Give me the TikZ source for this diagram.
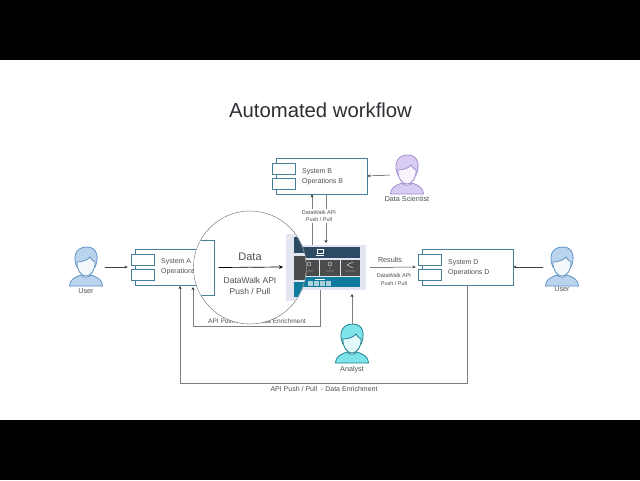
\documentclass[tikz,border=0pt]{standalone}
\usepackage{fontspec}
\setmainfont{Liberation Sans}
\usetikzlibrary{arrows.meta}

\definecolor{boxline}{HTML}{4A7F9C}
\definecolor{flowline}{HTML}{7F7F7F}
\definecolor{inktext}{HTML}{4A4F55}
\definecolor{navyband}{HTML}{2C4A62}
\definecolor{grayband}{HTML}{4B4B4B}
\definecolor{tealband}{HTML}{0F7C9E}
\definecolor{panelback}{HTML}{E3E6F0}
\definecolor{userline}{HTML}{5F93C4}
\definecolor{userfill}{HTML}{BBD4EE}
\definecolor{userface}{HTML}{F2F7FC}
\definecolor{scienceline}{HTML}{A08CD0}
\definecolor{sciencefill}{HTML}{D9CCF2}
\definecolor{scienceface}{HTML}{F8F4FD}
\definecolor{analystline}{HTML}{1E7F90}
\definecolor{analystfill}{HTML}{7FE3EA}
\definecolor{analystface}{HTML}{E2FAFB}

\tikzset{
    sysbox/.style={draw=boxline, fill=white, line width=0.8pt, minimum width=91pt, minimum height=36pt, inner sep=0pt},
    portbox/.style={draw=boxline, fill=white, line width=0.8pt, minimum width=23pt, minimum height=11pt, inner sep=0pt},
    syslabel/.style={anchor=west, align=left, text=inktext, inner sep=0pt, font=\fontsize{7}{10}\selectfont},
    smalllabel/.style={align=center, text=inktext, inner sep=1pt, font=\fontsize{5.5}{7.5}\selectfont},
    personlabel/.style={text=inktext, inner sep=0pt, font=\fontsize{7.2}{9}\selectfont},
    personspot/.style={minimum width=38pt, minimum height=40pt, inner sep=0pt},
    flow/.style={draw=flowline, line width=0.6pt},
    blackflow/.style={draw=black!75, line width=0.5pt, -{Stealth[length=3pt,width=3pt]}},
    grayflow/.style={flow, -{Stealth[length=3pt,width=3pt,color=black!80]}},
    pics/person/.style n args={3}{code={
        \draw[draw=#1, fill=#2, line width=0.8pt] (-16.5,19) .. controls (-16.5,13) and (-12,10.5) .. (-5,8) .. controls (-3,11) and (3,11) .. (5,8) .. controls (12,10.5) and (16.5,13) .. (16.5,19) -- cycle;
        \draw[draw=#1, fill=#2, line width=0.8pt] (-9,0) .. controls (-13,-8) and (-12,-20) .. (1,-20) .. controls (12,-20) and (13,-8) .. (9,0) -- cycle;
        \draw[draw=#1, fill=#3, line width=0.8pt] (-9,-5) .. controls (-4,-5) and (2,-7) .. (4,-10) .. controls (5,-8) and (7,-6) .. (9,-5) .. controls (9.5,3) and (5,9) .. (0,9) .. controls (-5,9) and (-9.5,3) .. (-9,-5) -- cycle;
    }},
    pics/appscreen/.style={code={
        \fill[panelback] (274,245) rectangle (366,290);
        \fill[navyband] (279,247) rectangle (360,258);
        \fill[grayband] (279,260) rectangle (319,276);
        \fill[grayband] (320,260) rectangle (340,276);
        \fill[grayband] (341,260) rectangle (360,276);
        \fill[tealband] (279,277) rectangle (360,287);
        \draw[white, line width=0.3pt] (317,249) rectangle (323,253);
        \draw[white, line width=0.3pt] (316,255) -- (324,255);
        \draw[white, line width=0.3pt] (309,264) circle (2) (305,271) -- (313,271);
        \draw[white, line width=0.3pt] (330,264) circle (2) (329,268) -- (331,268) (326,271) -- (334,271);
        \draw[white, line width=0.3pt] (347,265) -- (353,262) (347,265) -- (353,268) (345,271) -- (355,271);
        \draw[white, line width=0.3pt] (315,279) -- (325,279);
        \foreach \sq in {308,314,320,326} {
            \fill[white!65!tealband] (\sq,281) rectangle ++(5,5);
        }
    }}
}

\begin{document}
\begin{tikzpicture}[x=1pt, y=-1pt]
            \useasboundingbox (0,0) rectangle (640,480);
            \fill[black] (0,0) rectangle (640,60);
            \fill[black] (0,420) rectangle (640,480);

            \node[text=inktext!60!black, inner sep=0pt, font=\fontsize{20.3}{24}\selectfont] (title) at (320.5,110) {Automated workflow};

            % systems
            \node[sysbox] (sysB) at (321.5,176) {};
            \node[portbox] (portB1) at (283.5,168.5) {};
            \node[portbox] (portB2) at (283.5,183.5) {};
            \node[syslabel] (textB) at (302,177) {System B\\Operations B};

            \node[sysbox] (sysA) at (180.5,267) {};
            \node[portbox] (portA1) at (142.5,259.5) {};
            \node[portbox] (portA2) at (142.5,274.5) {};
            \node[syslabel] (textA) at (161,267) {System A\\Operations A};

            \node[sysbox] (sysD) at (467.5,267) {};
            \node[portbox] (portD1) at (429.5,259.5) {};
            \node[portbox] (portD2) at (429.5,274.5) {};
            \node[syslabel] (textD) at (448,267.5) {System D\\Operations D};

            % people
            \node[personspot] (userA) at (86,267) {};
            \pic at (userA) {person={userline}{userfill}{userface}};
            \node[personlabel] (nameA) at (86,291) {User};

            \node[personspot] (userD) at (562,267) {};
            \pic at (userD) {person={userline}{userfill}{userface}};
            \node[personlabel] (nameD) at (562,289) {User};

            \node[personspot] (scientist) at (407,175) {};
            \pic at (scientist) {person={scienceline}{sciencefill}{scienceface}};
            \node[personlabel] (nameS) at (407,199) {Data Scientist};

            \node[personspot] (analyst) at (352,344) {};
            \pic at (analyst) {person={analystline}{analystfill}{analystface}};
            \node[personlabel] (nameN) at (352,370) {Analyst};

            % app
            \node[minimum width=92pt, minimum height=45pt, inner sep=0pt] (app) at (320,267.5) {};
            \pic {appscreen};

            % connectors
            \coordinate (appUp) at (312,245);
            \coordinate (appDown) at (326,243);
            \coordinate (analystUp) at (352,294);
            \coordinate (cornerD) at (467.5,383);
            \coordinate (cornerA) at (180,383);
            \coordinate (cornerIn) at (320,326);
            \coordinate (cornerOut) at (193,326);
            \coordinate (inA) at (193,287);
            \coordinate (tipA) at (180,286);

            \draw[blackflow] (userA.east) -- ([xshift=-3pt]portA1.west |- userA.east);
            \draw[blackflow] (userD.west) -- (sysD.east);
            \draw[blackflow] ([xshift=2pt]scientist.west) -- (sysB.east);
            \draw[blackflow] ([xshift=4pt]app.east) -- ([xshift=-2pt]portD1.west |- sysD.west);
            \draw[grayflow] (appUp) -- (appUp |- sysB.south);
            \draw[grayflow] (326,195) -- (appDown);
            \draw[grayflow] (analyst.north) -- (analystUp);
            \draw[flow] (sysD.south) -- (cornerD) -- (cornerA);
            \draw[grayflow] (cornerA) -- (tipA);
            \draw[flow] (app.south) -- (cornerIn) -- (cornerOut);
            \draw[grayflow] (cornerOut) -- (inA);

            \node[smalllabel, fill=white] (apiB) at (319,216) {DataWalk API\\Push / Pull};
            \node[syslabel, anchor=center, font=\fontsize{7.2}{9}\selectfont] (results) at (390,260) {Results};
            \node[smalllabel] (apiD) at (394,279.5) {DataWalk API\\Push / Pull};
            \node[smalllabel, font=\fontsize{6.5}{8}\selectfont] (enrichIn) at (257,321) {API Push / Pull - Data Enrichment};
            \node[smalllabel, font=\fontsize{7}{8}\selectfont] (enrichOut) at (324,389) {API Push / Pull\ \ - Data Enrichment};

            % lens
            \node[circle, draw=black!60, fill=white, line width=0.4pt, minimum size=113pt, inner sep=0pt] (lens) at (250,267.5) {};
            \begin{scope}
                \clip (250,267.5) circle (56);
                \node[draw=boxline, fill=white, line width=1pt, minimum width=64pt, minimum height=55pt, inner sep=0pt] (zoomA) at (182,267.5) {};
                \begin{scope}[shift={(250,267.5)}, scale=1.5, shift={(-250,-267.5)}]
                    \pic[transform shape] {appscreen};
                \end{scope}
                \coordinate (zoomApp) at (283,267);
                \draw[draw=black, line width=0.7pt, -{Stealth[length=4pt,width=4pt]}] ([xshift=4pt]zoomA.east) -- (zoomApp);
                \draw[flowline, line width=1pt] (248,267) -- (252,267);
                \node[text=inktext, inner sep=0pt, font=\fontsize{11}{13}\selectfont] (dataText) at (250,257) {Data};
                \node[align=center, text=inktext, inner sep=0pt, font=\fontsize{8.5}{11}\selectfont] (apiText) at (250,285.5) {DataWalk API\\Push / Pull};
            \end{scope}
        \end{tikzpicture}
\end{document}
